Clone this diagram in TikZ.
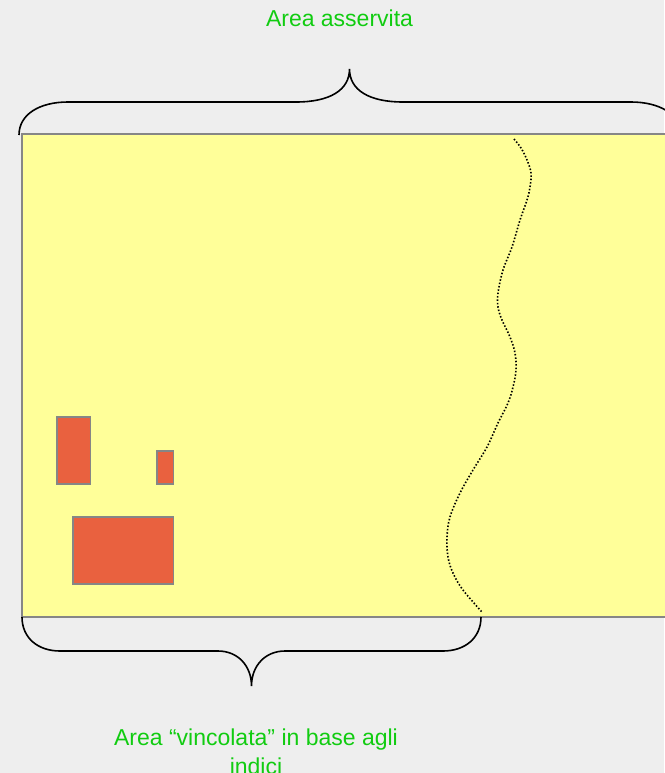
\documentclass[tikz,border=0pt]{standalone}
\usepackage{fontspec}
\setmainfont{Liberation Sans}
\definecolor{bgcol}{HTML}{EEEEEE}
\definecolor{areacol}{HTML}{FFFF99}
\definecolor{bldcol}{HTML}{E9613F}
\definecolor{edgecol}{HTML}{868686}
\definecolor{labcol}{HTML}{11CC11}
\begin{document}
\begin{tikzpicture}[x=1pt,y=-1pt,
  lotto/.style={fill=areacol,draw=edgecol,line width=1.5pt},
  edificio/.style={fill=bldcol,draw=edgecol,line width=1.5pt},
  graffa/.style={draw=black,line width=1.6pt},
  confine/.style={draw=black,line width=1.6pt,dash pattern=on 1.5pt off 1.9pt},
  etichetta/.style={text=labcol,font=\fontsize{23}{29}\selectfont,inner sep=0pt,align=center}]
\fill[bgcol] (0,0) rectangle (664,773);
\useasboundingbox (0,0) rectangle (664,773);
% yellow area
\path[lotto] (22,134) rectangle (690,617);
% buildings
\path[edificio] (57,417) rectangle (90.5,484);
\path[edificio] (157,451) rectangle (173.5,484);
\path[edificio] (73,517) rectangle (173.5,584);
% dotted boundary
\draw[confine] plot[smooth,tension=0.6] coordinates {(514,139) (521,148) (527,160) (531,173) (530,187) (527,200) (520,220) (512,247) (503,270) (498,293) (498,307) (502,320) (510,337) (515,353) (516,370) (513,387) (508,403) (498,423) (487,447) (473,470) (460,493) (450,517) (447,537) (448,557) (453,573) (463,590) (482,612)};
% top brace
\coordinate (tl) at (19,135);
\coordinate (tr) at (681,135);
\coordinate (tt) at (349.5,69);
\draw[graffa] (tl) .. controls (19,114) and (40,102) .. (68,102) -- (296,102)
  .. controls (330,102) and (349.5,90) .. (tt)
  .. controls (349.5,90) and (369,102) .. (403,102) -- (631,102)
  .. controls (659,102) and (681,114) .. (tr);
% bottom brace
\coordinate (bl) at (22,617);
\coordinate (br) at (481,617);
\coordinate (bt) at (251.5,686);
\draw[graffa] (bl) .. controls (22,638) and (38,651) .. (60,651) -- (218,651)
  .. controls (238,651) and (251.5,666) .. (bt)
  .. controls (251.5,666) and (265,651) .. (285,651) -- (443,651)
  .. controls (465,651) and (481,638) .. (br);
% labels
\node[etichetta,anchor=base] (asservita) at (339.5,27) {Area asservita};
\node[etichetta,anchor=base] (vincolata) at (256,774) {Area “vincolata” in base agli\\indici};
\end{tikzpicture}
\end{document}
